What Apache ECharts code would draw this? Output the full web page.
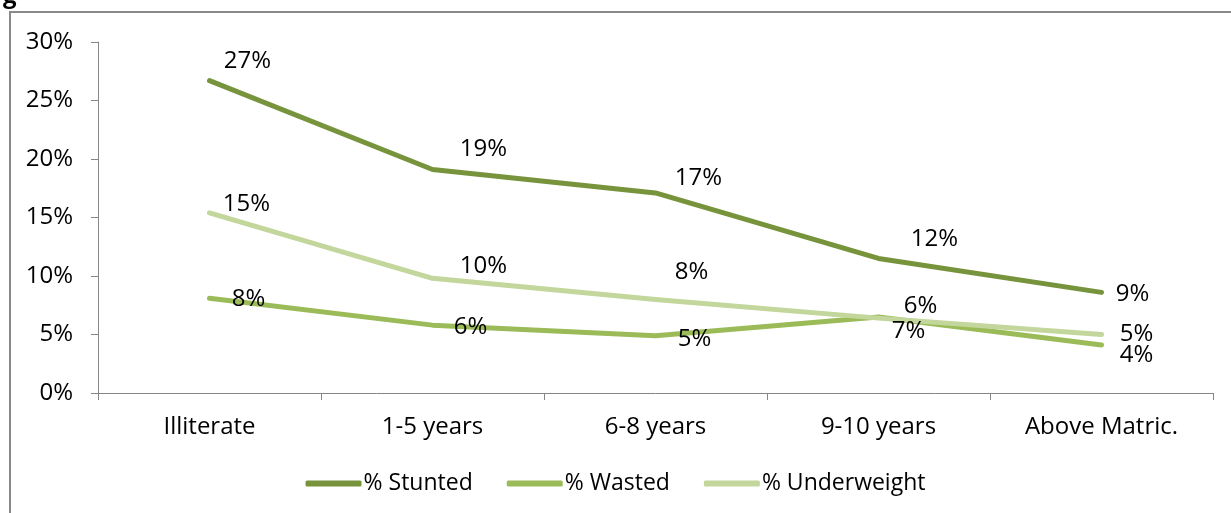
<!DOCTYPE html>
<html>
<head>
<meta charset="utf-8">
<script src="https://cdn.jsdelivr.net/npm/echarts@6/dist/echarts.min.js"></script>
<style>
  html, body { margin: 0; padding: 0; background: #fff; }
  #chart { width: 1231px; height: 513px; }
</style>
</head>
<body>
<div id="chart"></div>
<script>
const categories = ['Illiterate', '1-5 years', '6-8 years', '9-10 years', 'Above Matric.']
const stunted = [26.7, 19.1, 17.1, 11.5, 8.6]
const wasted = [8.1, 5.8, 4.9, 6.5, 4.1]
const underweight = [15.4, 9.8, 8.0, 6.4, 5.0]

// label centre offsets (x, y) from each point, as placed in the original
const stuntedOffsets = [[38, -19], [51, -20], [43, -15], [56, -19], [31, 2]]
const wastedOffsets = [[39, 1], [38, 2], [39, 3], [30, 14], [35, 10]]
const underOffsets = [[37, -9], [51, -12], [36, -27], [42, -12], [35, 0]]

const FONT = 'Open Sans'
const FS = 24
const TEXT = '#000'
const AXIS = '#868686'

function withLabels (values, offsets) {
  return values.map(function (v, i) {
    return { value: v, label: { position: offsets[i] } }
  })
}

function lineSeries (name, values, offsets, color) {
  return {
    name: name,
    type: 'line',
    data: withLabels(values, offsets),
    symbol: 'circle',
    symbolSize: 0,
    showSymbol: true,
    lineStyle: { color: color, width: 5, cap: 'round', join: 'round' },
    itemStyle: { color: color },
    label: {
      show: true,
      align: 'center',
      verticalAlign: 'middle',
      color: TEXT,
      fontFamily: FONT,
      fontSize: FS,
      formatter: function (p) { return Math.round(p.value) + '%' }
    },
    labelLayout: { hideOverlap: false },
    animation: false
  }
}

const myChart = echarts.init(document.getElementById('chart'))
const option = {
  backgroundColor: '#fff',
  animation: false,
  graphic: [
    {
      type: 'rect',
      shape: { x: 10, y: 12, width: 1400, height: 700 },
      style: { fill: 'none', stroke: '#898989', lineWidth: 2 },
      silent: true
    },
    {
      type: 'text',
      left: 3,
      top: -16,
      style: { text: 'g', fontFamily: FONT, fontWeight: 'bold', fontSize: 24, fill: '#000' }
    }
  ],
  grid: { left: 98, right: 18, top: 42, bottom: 120, containLabel: false },
  legend: {
    bottom: 13,
    left: 'center',
    itemWidth: 56,
    itemHeight: 6,
    itemGap: 34,
    icon: 'roundRect',
    textStyle: { fontFamily: FONT, fontSize: 23, color: TEXT, padding: [0, 0, 0, -3] },
    data: ['% Stunted', '% Wasted', '% Underweight']
  },
  xAxis: {
    type: 'category',
    data: categories,
    boundaryGap: true,
    axisLine: { lineStyle: { color: AXIS, width: 1 } },
    axisTick: { show: true, length: 7, alignWithLabel: false, lineStyle: { color: AXIS } },
    axisLabel: { color: TEXT, fontFamily: FONT, fontSize: FS, margin: 22 },
    splitLine: { show: false }
  },
  yAxis: {
    type: 'value',
    min: 0,
    max: 30,
    interval: 5,
    axisLine: { show: true, lineStyle: { color: AXIS, width: 1 } },
    axisTick: { show: true, length: 7, lineStyle: { color: AXIS } },
    axisLabel: {
      color: TEXT,
      fontFamily: FONT,
      fontSize: FS,
      margin: 25,
      formatter: function (v) { return v + '%' }
    },
    splitLine: { show: false }
  },
  series: [
    lineSeries('% Stunted', stunted, stuntedOffsets, '#77933C'),
    lineSeries('% Wasted', wasted, wastedOffsets, '#9BBB59'),
    lineSeries('% Underweight', underweight, underOffsets, '#C3D69B')
  ]
}
myChart.setOption(option)
</script>
</body>
</html>
